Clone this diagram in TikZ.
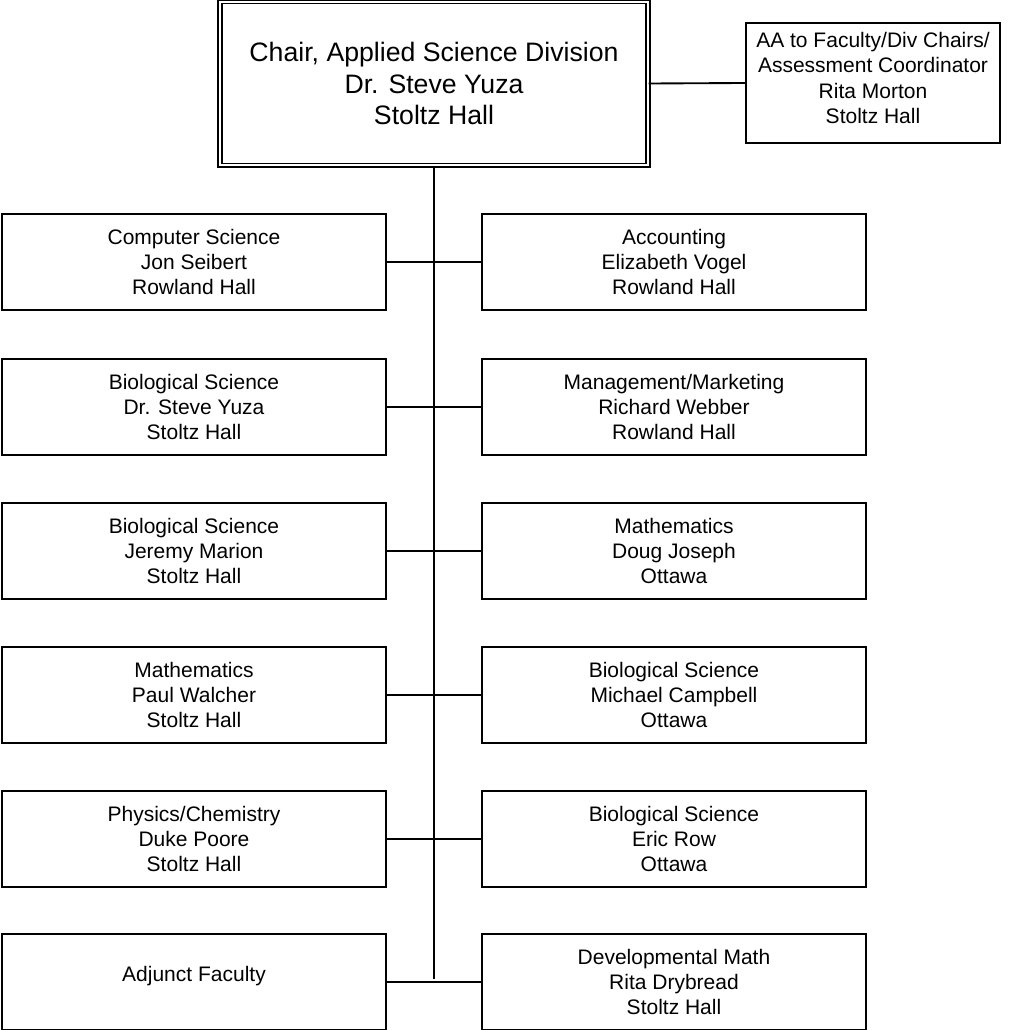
\documentclass[tikz,border=0pt]{standalone}
\usepackage{fontspec}
\setmainfont{Liberation Sans}
\begin{document}
\begin{tikzpicture}[x=0.75pt,y=-0.75pt,
  unit/.style={draw=black, line width=1.4pt, rectangle, align=center, inner sep=0pt,
    minimum width=288pt, minimum height=72pt, font=\fontsize{15.75}{19.1}\selectfont},
  chairbox/.style={draw=black, double=white, line width=1.1pt, double distance=1.6pt,
    rectangle, align=center, inner sep=0pt, minimum width=321pt, minimum height=122.5pt,
    font=\fontsize{20}{23.6}\selectfont},
  aabox/.style={draw=black, line width=1.4pt, rectangle, align=center, inner sep=0pt,
    minimum width=190.5pt, minimum height=90pt, font=\fontsize{15.75}{19.1}\selectfont},
  link/.style={draw=black, line width=1.4pt}]
\useasboundingbox (0,0) rectangle (1010,1030);

\node[chairbox] (chair) at (434,83.5) {Chair, Applied Science Division\\Dr. Steve Yuza\\Stoltz Hall};
\node[aabox, text depth=8pt] (aa) at (873,83) {AA to Faculty/Div Chairs/\\Assessment Coordinator\\Rita Morton\\Stoltz Hall};

\node[unit] (l1) at (194,262) {Computer Science\\Jon Seibert\\Rowland Hall};
\node[unit] (r1) at (674,262) {Accounting\\Elizabeth Vogel\\Rowland Hall};
\node[unit] (l2) at (194,407) {Biological Science\\Dr. Steve Yuza\\Stoltz Hall};
\node[unit] (r2) at (674,407) {Management/Marketing\\Richard Webber\\Rowland Hall};
\node[unit] (l3) at (194,551) {Biological Science\\Jeremy Marion\\Stoltz Hall};
\node[unit] (r3) at (674,551) {Mathematics\\Doug Joseph\\Ottawa};
\node[unit] (l4) at (194,695) {Mathematics\\Paul Walcher\\Stoltz Hall};
\node[unit] (r4) at (674,695) {Biological Science\\Michael Campbell\\Ottawa};
\node[unit] (l5) at (194,839) {Physics/Chemistry\\Duke Poore\\Stoltz Hall};
\node[unit] (r5) at (674,839) {Biological Science\\Eric Row\\Ottawa};
\node[unit, text depth=12.5pt] (l6) at (194,982) {Adjunct Faculty};
\node[unit] (r6) at (674,982) {Developmental Math\\Rita Drybread\\Stoltz Hall};

\coordinate (trunkend) at (434,979);
\draw[link] (chair.south) -- (chair.south |- trunkend);
\draw[link] (chair.east) -- (aa.west);
\foreach \i in {1,...,6} {
  \draw[link] (l\i.east) -- (r\i.west);
}
\end{tikzpicture}
\end{document}
